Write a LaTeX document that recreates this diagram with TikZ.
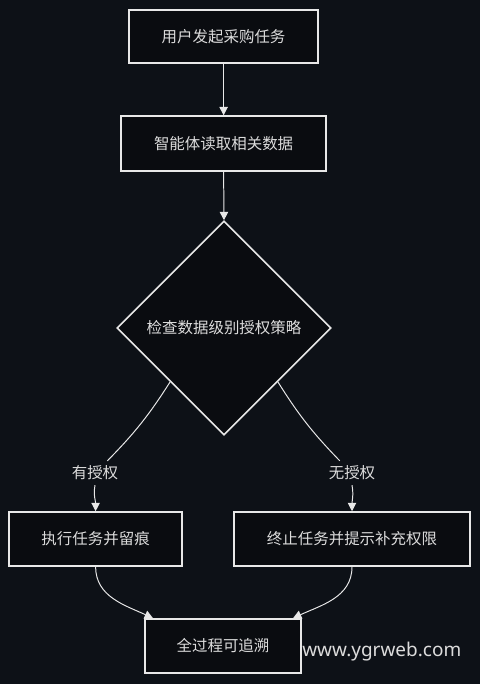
\documentclass[tikz,border=0pt]{standalone}
\usepackage{fontspec}
\newfontfamily\cjk{Noto Sans CJK SC}
\newfontfamily\webfont{Noto Sans}
\usetikzlibrary{positioning, shapes.geometric, arrows.meta}
\definecolor{bgdark}{HTML}{0D1117}
\definecolor{boxdark}{HTML}{0A0C10}
\definecolor{inkline}{HTML}{E8E8E8}
\definecolor{inktext}{HTML}{DCDCDC}

\begin{document}
\begin{tikzpicture}[every node/.style={align=center, text=inktext, font=\cjk\fontsize{11}{13}\selectfont},
    stepbox/.style={draw=inkline, line width=1.1pt, fill=boxdark, minimum height=1.35cm},
    flow/.style={-{Triangle[width=6pt,length=6pt]}, draw=inkline, line width=0.7pt}]

			% Background
			\fill[bgdark] (0,0) rectangle (12,-17.1);
			\useasboundingbox (0,0) rectangle (12,-17.1);
			% Nodes upper column
			\node[stepbox, minimum width=4.725cm, minimum height=1.325cm] (start) at (5.59,-0.91) {用户发起采购任务};
			\node[stepbox, minimum width=5.125cm, minimum height=1.375cm] (read) at (5.59,-3.59) {智能体读取相关数据};
			\node[diamond, draw=inkline, line width=1.1pt, fill=boxdark, inner sep=0pt, minimum width=5.35cm, minimum height=5.35cm] (check) at (5.6,-8.2) {检查数据级别授权策略};
			% Arrows upper column
			\draw[flow] (start.south) -- (read.north);
			\draw[flow] (read.south) -- (check.north);
			% Branch labels
			\node (yes) at (2.375,-11.825) {有授权};
			\node (no) at (8.8,-11.825) {无授权};
			\draw[draw=inkline, line width=0.7pt] (check.south west) to[bend left=6] (yes);
			\draw[draw=inkline, line width=0.7pt] (check.south east) to[bend right=6] (no);
			% Branch boxes
			\node[stepbox, minimum width=4.325cm] (exec) at (2.39,-13.475) {执行任务并留痕};
			\node[stepbox, minimum width=5.9cm] (stop) at (8.8,-13.475) {终止任务并提示补充权限};
			\draw[flow] (yes.south) to[out=-100, in=90] (exec.north);
			\draw[flow] (no.south) to[out=-80, in=90] (stop.north);
			% Bottom box
			\node[stepbox, minimum width=3.9cm] (trace) at (5.575,-16.15) {全过程可追溯};
			\draw[flow] (exec.south) to[out=-90, in=155] ([xshift=0.22cm]trace.north west);
			\draw[flow] (stop.south) to[out=-90, in=25] ([xshift=-0.22cm]trace.north east);
			% Watermark
			\node[anchor=west, font=\webfont\fontsize{13.5}{16}\selectfont, inner sep=0pt] (site) at (7.55,-16.3) {www.ygrweb.com};
		\end{tikzpicture}
\end{document}
